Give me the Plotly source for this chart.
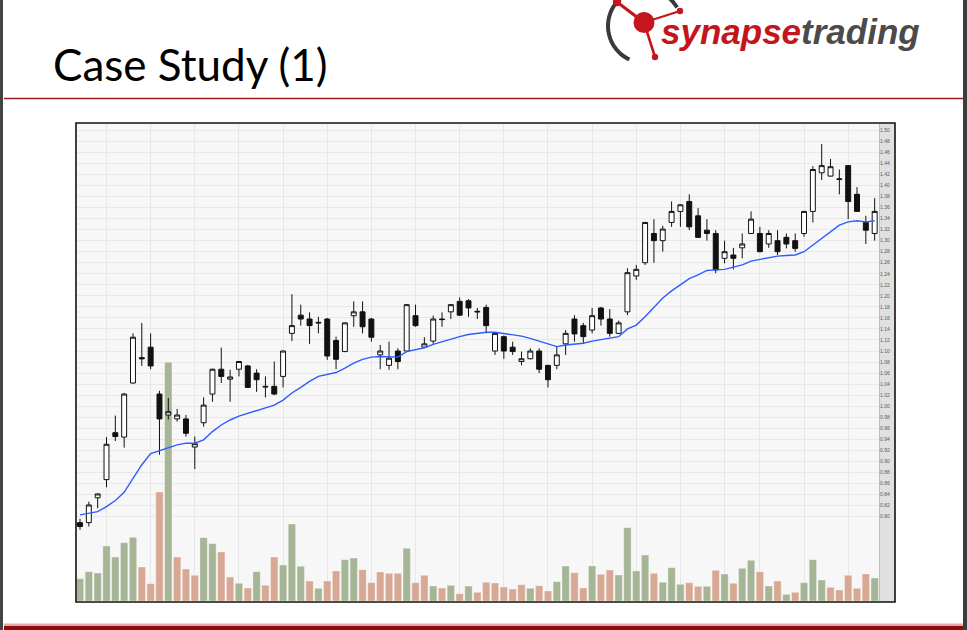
import math
import plotly.graph_objects as go

# ---------------- data ----------------
OPEN = [0.789, 0.789, 0.834, 0.867, 0.952, 0.944, 1.042, 1.088, 1.107, 1.022,
        0.984, 0.977, 0.977, 0.926, 0.970, 1.022, 1.067, 1.049, 1.067, 1.073,
        1.060, 1.036, 1.036, 1.054, 1.132, 1.165, 1.158, 1.152, 1.158, 1.119,
        1.099, 1.164, 1.171, 1.158, 1.093, 1.074, 1.100, 1.100, 1.164, 1.107,
        1.118, 1.158, 1.171, 1.190, 1.191, 1.172, 1.179, 1.100, 1.126, 1.107,
        1.081, 1.086, 1.100, 1.074, 1.074, 1.113, 1.158, 1.146, 1.138, 1.178,
        1.158, 1.132, 1.171, 1.236, 1.260, 1.313, 1.300, 1.333, 1.353, 1.371,
        1.345, 1.319, 1.313, 1.268, 1.274, 1.287, 1.313, 1.313, 1.294, 1.300,
        1.306, 1.300, 1.313, 1.353, 1.423, 1.417, 1.412, 1.436, 1.384, 1.333,
        1.313]
HIGH = [0.796, 0.827, 0.842, 0.944, 0.983, 1.024, 1.132, 1.151, 1.132, 1.028,
        1.015, 0.995, 0.984, 0.945, 1.016, 1.068, 1.106, 1.066, 1.082, 1.075,
        1.067, 1.054, 1.081, 1.101, 1.203, 1.184, 1.170, 1.162, 1.160, 1.126,
        1.152, 1.190, 1.190, 1.160, 1.111, 1.117, 1.105, 1.185, 1.184, 1.125,
        1.164, 1.170, 1.185, 1.197, 1.194, 1.178, 1.184, 1.133, 1.128, 1.117,
        1.099, 1.105, 1.105, 1.075, 1.108, 1.138, 1.165, 1.151, 1.178, 1.180,
        1.176, 1.155, 1.250, 1.256, 1.334, 1.339, 1.327, 1.371, 1.366, 1.384,
        1.359, 1.339, 1.319, 1.300, 1.287, 1.313, 1.353, 1.325, 1.319, 1.319,
        1.313, 1.313, 1.354, 1.435, 1.475, 1.448, 1.429, 1.437, 1.397, 1.345,
        1.377]
LOW = [0.776, 0.782, 0.815, 0.853, 0.937, 0.925, 1.041, 1.073, 1.067, 0.912,
       0.976, 0.972, 0.945, 0.886, 0.963, 1.008, 1.042, 1.008, 1.054, 1.034,
       1.026, 1.016, 1.020, 1.034, 1.118, 1.146, 1.113, 1.132, 1.084, 1.067,
       1.098, 1.144, 1.132, 1.117, 1.067, 1.066, 1.067, 1.099, 1.144, 1.105,
       1.113, 1.144, 1.158, 1.164, 1.162, 1.158, 1.132, 1.093, 1.086, 1.093,
       1.074, 1.085, 1.060, 1.034, 1.067, 1.093, 1.117, 1.113, 1.132, 1.146,
       1.126, 1.131, 1.165, 1.229, 1.256, 1.260, 1.280, 1.325, 1.325, 1.319,
       1.305, 1.300, 1.241, 1.259, 1.248, 1.268, 1.312, 1.279, 1.287, 1.274,
       1.286, 1.280, 1.307, 1.333, 1.410, 1.416, 1.384, 1.339, 1.352, 1.294,
       1.300]
CLOSE = [0.782, 0.821, 0.841, 0.931, 0.945, 1.022, 1.125, 1.086, 1.073, 0.977,
         0.990, 0.984, 0.951, 0.932, 1.002, 1.067, 1.054, 1.053, 1.081, 1.034,
         1.048, 1.035, 1.022, 1.100, 1.146, 1.158, 1.146, 1.151, 1.091, 1.085,
         1.151, 1.171, 1.144, 1.125, 1.100, 1.087, 1.081, 1.184, 1.146, 1.113,
         1.158, 1.157, 1.184, 1.165, 1.178, 1.171, 1.146, 1.132, 1.100, 1.099,
         1.086, 1.100, 1.067, 1.048, 1.093, 1.132, 1.131, 1.126, 1.164, 1.158,
         1.132, 1.151, 1.242, 1.248, 1.333, 1.300, 1.321, 1.353, 1.365, 1.325,
         1.306, 1.313, 1.247, 1.280, 1.268, 1.294, 1.339, 1.280, 1.313, 1.280,
         1.294, 1.286, 1.353, 1.429, 1.436, 1.434, 1.411, 1.371, 1.353, 1.319,
         1.353]
VOLUME = [223, 293, 280, 550, 440, 583, 637, 340, 173, 1090,
          2387, 440, 320, 257, 633, 573, 490, 240, 177, 130,
          293, 157, 440, 360, 770, 347, 200, 127, 200, 300,
          413, 430, 313, 183, 290, 277, 277, 527, 183, 257,
          150, 130, 157, 73, 150, 87, 187, 180, 140, 120,
          163, 127, 153, 100, 193, 350, 283, 130, 350, 267,
          310, 260, 733, 300, 460, 277, 187, 333, 167, 183,
          147, 147, 307, 270, 177, 327, 407, 293, 150, 200,
          67, 87, 183, 413, 210, 137, 110, 257, 127, 270, 230]
MOVING_AVG = [0.803, 0.806, 0.809, 0.818, 0.829, 0.844, 0.868, 0.894, 0.914, 0.919,
              0.925, 0.930, 0.933, 0.933, 0.939, 0.954, 0.966, 0.975, 0.982, 0.987,
              0.992, 0.996, 1.002, 1.011, 1.024, 1.034, 1.045, 1.054, 1.058, 1.061,
              1.069, 1.078, 1.085, 1.089, 1.090, 1.090, 1.089, 1.099, 1.102, 1.106,
              1.112, 1.117, 1.121, 1.126, 1.130, 1.132, 1.134, 1.134, 1.132, 1.130,
              1.127, 1.123, 1.118, 1.112, 1.108, 1.111, 1.113, 1.114, 1.118, 1.121,
              1.123, 1.126, 1.140, 1.147, 1.162, 1.179, 1.196, 1.209, 1.220, 1.231,
              1.238, 1.246, 1.247, 1.248, 1.252, 1.256, 1.263, 1.266, 1.270, 1.272,
              1.273, 1.274, 1.280, 1.292, 1.304, 1.316, 1.328, 1.334, 1.336, 1.334,
              1.336]
PRICE_TICKS = [0.80, 0.82, 0.84, 0.86, 0.88, 0.90, 0.92, 0.94, 0.96, 0.98,
               1.00, 1.02, 1.04, 1.06, 1.08, 1.10, 1.12, 1.14, 1.16, 1.18,
               1.20, 1.22, 1.24, 1.26, 1.28, 1.30, 1.32, 1.34, 1.36, 1.38,
               1.40, 1.42, 1.44, 1.46, 1.48, 1.50]
WEEK_GRID = [3, 8, 13, 18, 23, 28, 33, 38, 43, 48, 53, 58, 63, 68, 73, 77, 82, 87]

TITLE = "Case Study (1)"

# ---------------- geometry helpers (pixel -> paper) ----------------
W, H = 967, 630
PL, PR, PT, PB = 77, 879, 124, 601


def px(x):
    return (x - PL) / (PR - PL)


def py(y):
    return (PB - y) / (PB - PT)


idx = list(range(len(OPEN)))
vol_colors = []
for i, c in enumerate(CLOSE):
    up = True if i == 0 else c >= CLOSE[i - 1]
    vol_colors.append("#a5b595" if up else "#d7a893")

fig = go.Figure()

fig.add_trace(go.Bar(
    x=idx, y=VOLUME, yaxis="y", marker=dict(color=vol_colors,
                                          line=dict(color="rgba(255,255,255,0.55)", width=0.6)),
    hoverinfo="skip", showlegend=False))

fig.add_trace(go.Candlestick(
    x=idx, open=OPEN, high=HIGH, low=LOW, close=CLOSE, yaxis="y2",
    increasing=dict(fillcolor="#ffffff", line=dict(color="#111111", width=1)),
    decreasing=dict(fillcolor="#111111", line=dict(color="#111111", width=1)),
    whiskerwidth=0, showlegend=False, hoverinfo="skip"))

fig.add_trace(go.Scatter(
    x=idx, y=MOVING_AVG, yaxis="y2", mode="lines",
    line=dict(color="#2d5cff", width=1.4), hoverinfo="skip", showlegend=False))

shapes = []
# axis label strip
shapes.append(dict(type="rect", xref="paper", yref="paper", x0=px(879), x1=px(894.5),
                   y0=py(602), y1=py(123), fillcolor="#e0e0e0", line=dict(width=0), layer="below"))
shapes.append(dict(type="line", xref="paper", yref="paper", x0=px(879.5), x1=px(879.5),
                   y0=py(601), y1=py(124), line=dict(color="#bdbdbd", width=1)))
# chart border
shapes.append(dict(type="rect", xref="paper", yref="paper", x0=px(76), x1=px(895),
                   y0=py(602), y1=py(123), line=dict(color="#111111", width=1.6), layer="above"))
# page edges
shapes.append(dict(type="rect", xref="paper", yref="paper", x0=px(0), x1=px(3),
                   y0=py(630), y1=py(0), fillcolor="#444444", line=dict(width=0)))
shapes.append(dict(type="rect", xref="paper", yref="paper", x0=px(963), x1=px(967),
                   y0=py(630), y1=py(0), fillcolor="#3c3c3c", line=dict(width=0)))
# title rule
shapes.append(dict(type="line", xref="paper", yref="paper", x0=px(4), x1=px(963),
                   y0=py(98.5), y1=py(98.5), line=dict(color="#9e1c1c", width=1.4)))
# bottom rules
shapes.append(dict(type="rect", xref="paper", yref="paper", x0=px(4), x1=px(963),
                   y0=py(626), y1=py(623.5), fillcolor="#e2aaaa", line=dict(width=0)))
shapes.append(dict(type="rect", xref="paper", yref="paper", x0=px(4), x1=px(963),
                   y0=py(630), y1=py(626), fillcolor="#8c0c0c", line=dict(width=0)))

# logo icon: dark arc
cx, cy, r = 645, 26, 37
pts = []
for k in range(0, 44):
    th = math.radians(30 + k * 5)
    pts.append((cx + r * math.cos(th), cy - r * math.sin(th)))
path = "M " + " L ".join(f"{px(a):.5f},{py(b):.5f}" for a, b in pts)
shapes.append(dict(type="path", xref="paper", yref="paper", path=path,
                   line=dict(color="#3a3a3a", width=4)))
# logo icon: red links and balls
for (x2, y2, w) in [(617, 2, 3.2), (680, 11, 2.2), (655, 57, 2.6)]:
    shapes.append(dict(type="line", xref="paper", yref="paper", x0=px(644), y0=py(22.5),
                       x1=px(x2), y1=py(y2), line=dict(color="#c4161e", width=w)))
for (bx, by, br) in [(644, 22.5, 10.5), (617, 2, 4.2), (680, 11, 3.2), (655, 57, 3.2)]:
    shapes.append(dict(type="circle", xref="paper", yref="paper", x0=px(bx - br), x1=px(bx + br),
                       y0=py(by + br), y1=py(by - br), fillcolor="#c4161e", line=dict(width=0)))

annotations = [
    dict(text=TITLE, xref="paper", yref="paper", x=px(51), y=py(64), xanchor="left",
         yanchor="middle", showarrow=False, font=dict(family="Lato", size=44, color="#000000")),
    dict(text="<b><i><span style='color:#c3151c'>synapse</span>"
              "<span style='color:#4b4b4b'>trading</span></i></b>",
         xref="paper", yref="paper", x=px(659), y=py(31), xanchor="left", yanchor="middle",
         showarrow=False, font=dict(family="Liberation Sans", size=35, color="#4b4b4b")),
]

fig.update_layout(
    width=W, height=H,
    margin=dict(l=PL, r=W - PR, t=PT, b=H - PB, pad=0),
    paper_bgcolor="#ffffff", plot_bgcolor="#f7f7f7",
    showlegend=False, bargap=0.17, boxgap=0.2,
    xaxis=dict(range=[-0.34, 90.49], tickvals=WEEK_GRID, showticklabels=False,
               showgrid=True, gridcolor="#e6e6e6", gridwidth=1, zeroline=False,
               showline=False, ticks="", rangeslider=dict(visible=False), fixedrange=True),
    yaxis=dict(range=[0, 4770], visible=False, showgrid=False, zeroline=False, fixedrange=True),
    yaxis2=dict(range=[0.647, 1.5114], overlaying="y", side="right",
                tickvals=PRICE_TICKS, ticktext=[f"{v:.2f}" for v in PRICE_TICKS],
                tickfont=dict(family="Liberation Sans", size=5, color="#5a5a5a"),
                showgrid=True, gridcolor="#e8e8e8", gridwidth=1, zeroline=False,
                showline=False, ticks="", fixedrange=True),
    shapes=shapes, annotations=annotations,
)

fig.write_html("out.html", config={"displayModeBar": False},
               post_script="document.body.style.margin='0';document.body.style.overflow='hidden';")
